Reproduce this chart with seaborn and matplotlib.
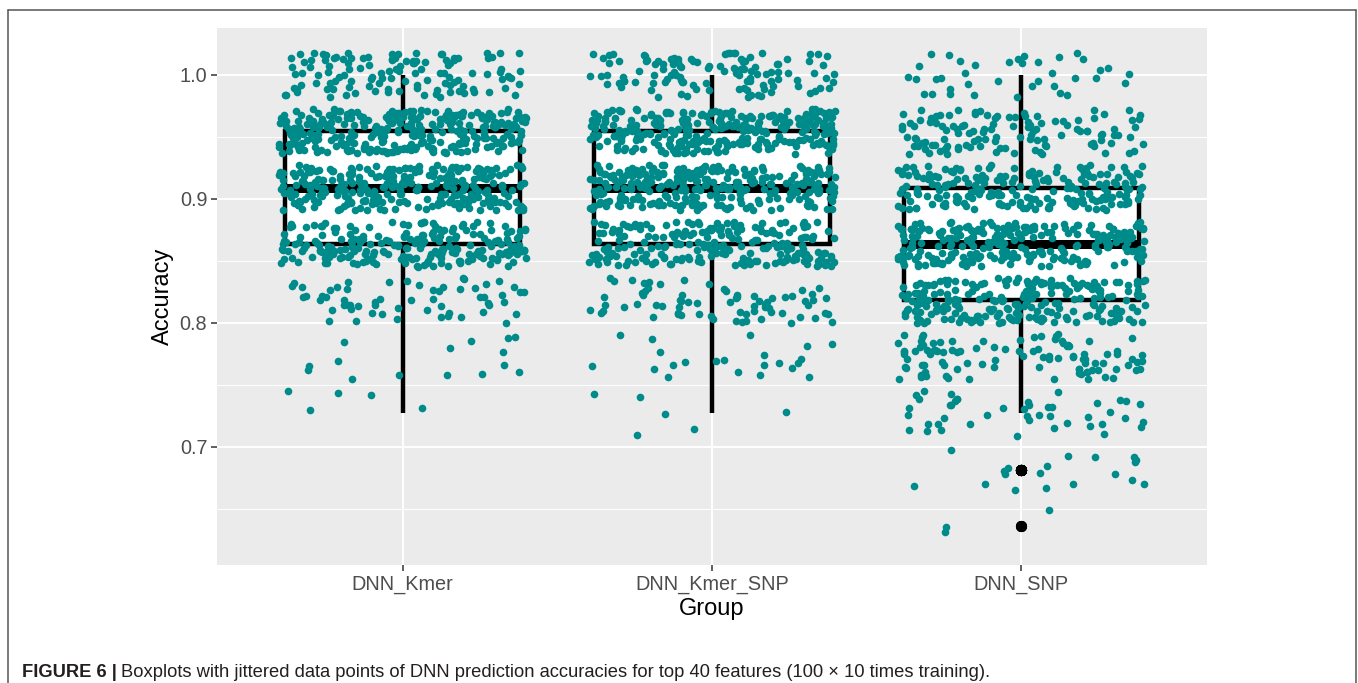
"""
Boxplots with jittered points of DNN prediction accuracies (ggplot look, seaborn).
"""
import matplotlib
matplotlib.use("Agg")
import matplotlib.pyplot as plt
from matplotlib.lines import Line2D
from matplotlib.ticker import MultipleLocator
import seaborn as sns
import numpy as np
import pandas as pd

# accuracies are k correct out of 22 test samples
groups = ["DNN_Kmer", "DNN_Kmer_SNP", "DNN_SNP"]
n_correct = [22, 21, 20, 19, 18, 17, 16, 15, 14]
n_test = 22
# number of training runs that hit each accuracy level
kmer_counts = [120, 305, 275, 220, 60, 15, 5, 0, 0]
kmer_snp_counts = [115, 290, 280, 215, 72, 22, 6, 0, 0]
snp_counts = [38, 120, 205, 250, 220, 100, 45, 19, 3]

POINT_COLOR = "#008B8B"
W, H, DPI = 1358, 683, 100

levels = np.array(n_correct) / n_test
rows = []
for g, counts in zip(groups, [kmer_counts, kmer_snp_counts, snp_counts]):
    vals = np.repeat(levels, counts)
    rows.append(pd.DataFrame({"Group": g, "Accuracy": vals}))
df = pd.concat(rows, ignore_index=True)

# geom_jitter style vertical jitter (+-40% of data resolution), display only
rng = np.random.default_rng(6)
df["AccJit"] = df["Accuracy"] + rng.uniform(-0.4 / n_test, 0.4 / n_test, len(df))

sns.set_theme(style="darkgrid")
plt.rcParams["font.family"] = ["Liberation Sans", "DejaVu Sans"]

fig = plt.figure(figsize=(W / DPI, H / DPI), dpi=DPI)
ax = fig.add_axes([217 / W, 1 - 565 / H, (1207 - 217) / W, (565 - 28) / H])
ax.set_facecolor("#EBEBEB")

sns.boxplot(data=df, x="Group", y="Accuracy", order=groups, ax=ax,
            width=0.76, color="white", linecolor="black", linewidth=3.2,
            whis=1.5, showcaps=False,
            medianprops=dict(linewidth=6.5),
            flierprops=dict(marker="o", markerfacecolor="black",
                            markeredgecolor="black", markersize=7))
np.random.seed(3)
sns.stripplot(data=df, x="Group", y="AccJit", order=groups, ax=ax,
              color=POINT_COLOR, jitter=0.4, size=5.5, linewidth=0)

ax.set_xlim(-0.6, 2.6)
ax.set_ylim(0.6048, 1.0379)
ax.yaxis.set_major_locator(MultipleLocator(0.1))
ax.yaxis.set_minor_locator(MultipleLocator(0.05))
ax.set_yticks([0.7, 0.8, 0.9, 1.0])
ax.set_yticklabels(["0.7", "0.8", "0.9", "1.0"])
ax.grid(which="major", color="white", linewidth=1.4)
ax.grid(which="minor", axis="y", color="white", linewidth=0.7)
ax.set_axisbelow(True)
for s in ax.spines.values():
    s.set_visible(False)
ax.tick_params(axis="both", which="major", length=4, width=1.1, color="#333333",
               labelsize=14.3, labelcolor="#4D4D4D", pad=3, left=True, bottom=True)
ax.tick_params(axis="y", which="minor", length=0)

ax.set_xlabel("Group", fontsize=17, color="black", labelpad=3)
ax.set_ylabel("Accuracy", fontsize=17, color="black", labelpad=4)

# figure frame (open at the bottom)
fc = "#555555"
x0, x1, ytop = 8 / W, 1355.5 / W, 1 - 10 / H
fig.add_artist(Line2D([x0, x0], [0, ytop], color=fc, linewidth=1.1))
fig.add_artist(Line2D([x0, x1], [ytop, ytop], color=fc, linewidth=1.1))
fig.add_artist(Line2D([x1, x1], [0, ytop], color=fc, linewidth=1.1))

cap_family = ["Liberation Sans", "DejaVu Sans"]
t1 = fig.text(22 / W, 1 - 677 / H, "FIGURE 6 |", fontsize=13.2, fontweight="bold",
              color="#231F20", family=cap_family, va="baseline")
fig.canvas.draw()
bb = t1.get_window_extent()
fig.text(bb.x1 / W + 4 / W, 1 - 677 / H,
         "Boxplots with jittered data points of DNN prediction accuracies for top 40 "
         "features (100 \u00d7 10 times training).",
         fontsize=13.2, color="#231F20", family=cap_family, va="baseline")

fig.savefig("out.png", dpi=DPI)
